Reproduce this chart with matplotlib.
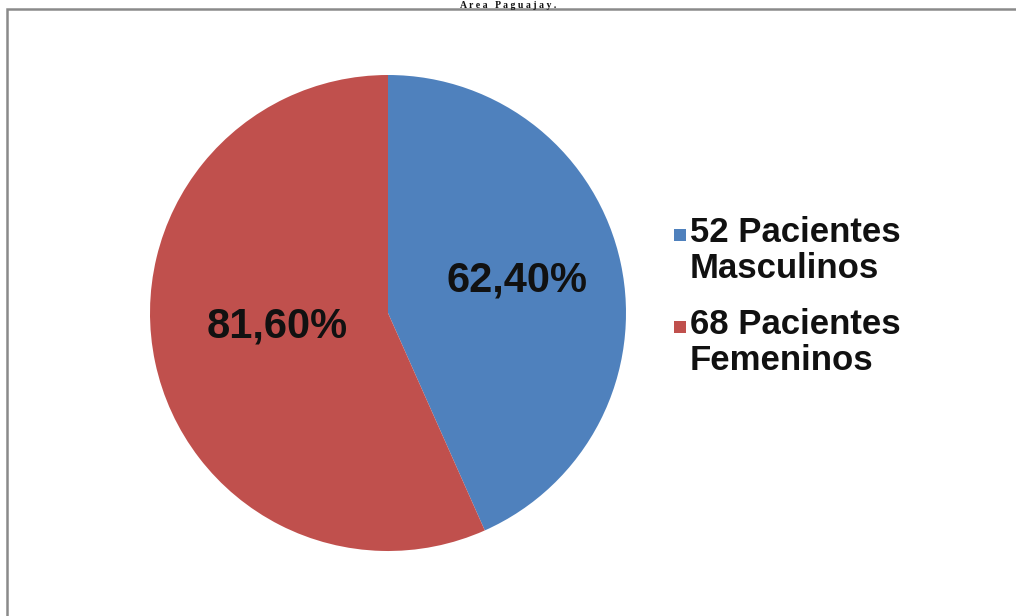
import matplotlib.pyplot as plt
from matplotlib.patches import Rectangle
import numpy as np

# podaci sa slike
labels = ["52 Pacientes\nMasculinos", "68 Pacientes\nFemeninos"]
values = [62.40, 81.60]
value_text = ["62,40%", "81,60%"]
colors = ["#4F81BD", "#C0504D"]
title = "A r e a   P a g u a j a y ."

W, H = 1016, 616
fig = plt.figure(figsize=(W / 100, H / 100), dpi=100)
fig.patch.set_facecolor("white")

# okvir grafika (vidi se samo gore i levo)
fig.patches.append(Rectangle((7 / W, -0.1), 1.2, 1.1 - 9 / H, transform=fig.transFigure,
                             fill=False, edgecolor="#8a8a8a", linewidth=1.8))

# naslov iznad okvira
fig.text(508 / W, 1 - 0.5 / H, title, ha="center", va="top", fontsize=7,
         fontweight="bold", family="Liberation Serif", color="#111111")

# pita
cx, cy, r = 388, 313, 238
ax = fig.add_axes([(cx - r) / W, 1 - (cy + r) / H, 2 * r / W, 2 * r / H])
wedges, _ = ax.pie(values, colors=colors, startangle=90, counterclock=False,
                   wedgeprops=dict(linewidth=0))
ax.set_xlim(-1, 1)
ax.set_ylim(-1, 1)
ax.set_aspect("auto")
ax.axis("off")

# oznake vrednosti u kriskama
lab_r = [0.56, 0.47]
lab_shift = [2, -5]
for w, t, rr, sh in zip(wedges, value_text, lab_r, lab_shift):
    ang = np.deg2rad((w.theta1 + w.theta2) / 2 + sh)
    ax.text(rr * np.cos(ang), rr * np.sin(ang), t, ha="center", va="center",
            fontsize=30, fontweight="bold", family="Liberation Sans", color="#111111")

# legenda
for i, (lab, c) in enumerate(zip(labels, colors)):
    ytop = 216 + i * 92
    fig.patches.append(Rectangle((674 / W, 1 - (ytop + 25) / H), 12 / W, 12 / H,
                                 transform=fig.transFigure, color=c, linewidth=0))
    fig.text(690 / W, 1 - ytop / H, lab, ha="left", va="top", fontsize=25,
             fontweight="bold", family="Liberation Sans", color="#111111",
             linespacing=1.12)

fig.savefig("out.png", dpi=100)
